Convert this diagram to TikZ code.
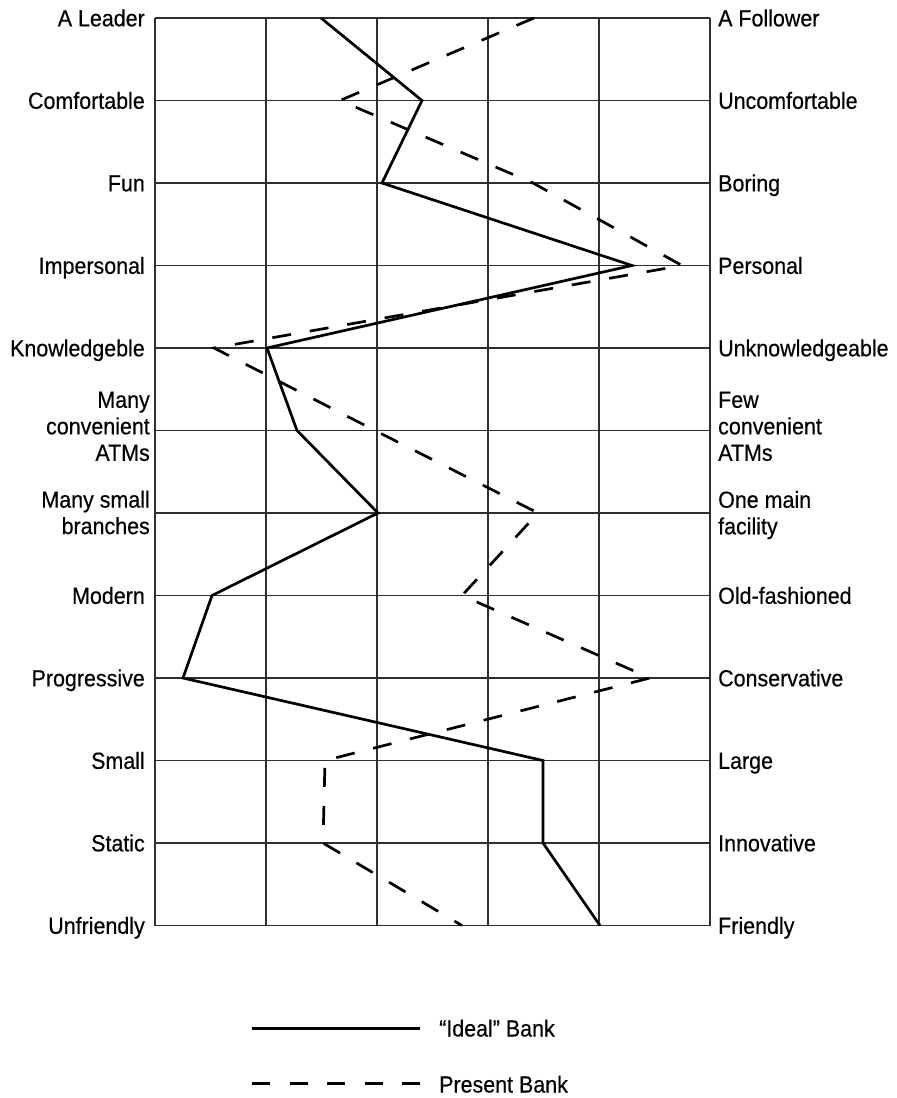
\documentclass[tikz,border=0pt]{standalone}
\usepackage{fontspec}
\setmainfont[FakeStretch=0.92,FakeBold=0.4]{Liberation Sans}
\begin{document}
\begin{tikzpicture}[x=1pt,y=-1pt,
  gridline/.style={draw=black!82,line width=1.5pt},
  ideal/.style={draw=black,line width=2.7pt,line join=miter},
  present/.style={draw=black,line width=2.7pt,line join=miter,dash pattern=on 19pt off 19pt},
  lbl/.style={inner sep=0pt,font=\fontsize{23.3}{26.5}\selectfont},
  lblL/.style={lbl,anchor=base east},
  lblR/.style={lbl,anchor=base west},
  mlL/.style={lbl,anchor=east,align=right},
  mlR/.style={lbl,anchor=west,align=left}]
\useasboundingbox (0,0) rectangle (897,1098);
% grid
\foreach \i in {0,...,5} \draw[gridline] (155+111*\i,18) -- (155+111*\i,925.5);
\foreach \j in {0,...,11} \draw[gridline] (155,18+82.5*\j) -- (710,18+82.5*\j);
% left labels
\node[lblL] (l0) at (145,26.3) {A Leader};
\node[lblL] (l1) at (145,108.8) {Comfortable};
\node[lblL] (l2) at (145,191.3) {Fun};
\node[lblL] (l3) at (145,273.8) {Impersonal};
\node[lblL] (l4) at (145,356.3) {Knowledgeble};
\node[mlL] (l5) at (150,426.4) {Many\\convenient\\ATMs};
\node[mlL] (l6) at (150,512.5) {Many small\\branches};
\node[lblL] (l7) at (145,603.8) {Modern};
\node[lblL] (l8) at (145,686.3) {Progressive};
\node[lblL] (l9) at (145,768.8) {Small};
\node[lblL] (l10) at (145,851.3) {Static};
\node[lblL] (l11) at (145,933.8) {Unfriendly};
% right labels
\node[lblR] (r0) at (718,26.3) {A Follower};
\node[lblR] (r1) at (718,108.8) {Uncomfortable};
\node[lblR] (r2) at (718,191.3) {Boring};
\node[lblR] (r3) at (718,273.8) {Personal};
\node[lblR] (r4) at (718,356.3) {Unknowledgeable};
\node[mlR] (r5) at (718,426.4) {Few\\convenient\\ATMs};
\node[mlR] (r6) at (718,515) {One main\\facility};
\node[lblR] (r7) at (718,603.8) {Old-fashioned};
\node[lblR] (r8) at (718,686.3) {Conservative};
\node[lblR] (r9) at (718,768.8) {Large};
\node[lblR] (r10) at (718,851.3) {Innovative};
\node[lblR] (r11) at (718,933.8) {Friendly};
% ideal bank points
\coordinate (s0) at (321,18);
\coordinate (s1) at (422,100.5);
\coordinate (s2) at (382,183);
\coordinate (s3) at (632,265.5);
\coordinate (s4) at (267,348);
\coordinate (s5) at (297,430.5);
\coordinate (s6) at (378,513);
\coordinate (s7) at (212,595.5);
\coordinate (s8) at (183,678);
\coordinate (s9) at (543,760.5);
\coordinate (s10) at (543,843);
\coordinate (s11) at (600,925.5);
% present bank points
\coordinate (d0) at (534,18);
\coordinate (d1) at (340,100.5);
\coordinate (d2) at (533,183);
\coordinate (d3) at (682,265.5);
\coordinate (d4) at (214,348);
\coordinate (d5) at (375,430.5);
\coordinate (d6) at (538,513);
\coordinate (d7) at (462,595.5);
\coordinate (d8) at (650,678);
\coordinate (d9) at (325,760.5);
\coordinate (d10) at (323,843);
\coordinate (d11) at (462,925.5);
\draw[ideal] (s0) -- (s1) -- (s2) -- (s3) -- (s4) -- (s5) -- (s6) -- (s7) -- (s8) -- (s9) -- (s10) -- (s11);
\draw[present] (d0) -- (d1) -- (d2) -- (d3) -- (d4) -- (d5) -- (d6) -- (d7) -- (d8) -- (d9) -- (d10) -- (d11);
% legend
\coordinate (ia) at (252,1028);
\coordinate (ib) at (420,1028);
\draw[ideal,line width=3pt] (ia) -- (ib);
\node[lblR] (it) at (439,1036.5) {“Ideal” Bank};
\coordinate (pa) at (252,1083);
\coordinate (pb) at (420,1083);
\draw[present,line width=3pt,dash pattern=on 18pt off 19.5pt] (pa) -- (pb);
\node[lblR] (pt) at (439,1092.5) {Present Bank};
\end{tikzpicture}
\end{document}
